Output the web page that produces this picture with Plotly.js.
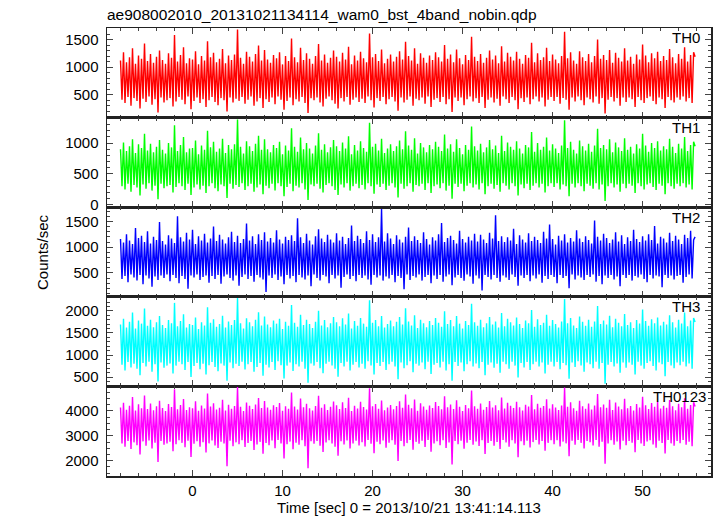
<!DOCTYPE html>
<html><head><meta charset="utf-8">
<script src="https://cdn.plot.ly/plotly-3.0.1.min.js"></script>
<style>html,body{margin:0;padding:0;background:#fff}</style>
</head><body><div id="chart" style="width:717px;height:516px"></div>
<script>
// time grid: start and bin width (seconds from 2013/10/21 13:41:14.113)
const tStart = -8;
const tStep = 1 / 6;

const seriesNames = ['TH0', 'TH1', 'TH2', 'TH3', 'TH0123'];

const th0 = [
1120,410,1270,350,1090,460,1180,300,1340,440,1060,390,1210,250,1150,430,
1430,370,1110,470,1240,320,1080,420,1190,180,1300,450,1130,360,1060,400,
1250,440,1170,290,1580,380,1100,460,1220,410,1360,330,1070,470,1160,240,
1140,390,1290,450,1050,350,1200,420,1120,280,1470,400,1180,460,1260,370,
1090,310,1150,440,1330,400,1070,200,1210,450,1130,360,1230,430,1680,390,
1170,460,1060,340,1280,410,1190,470,1100,300,1240,380,1390,440,1120,260,
1310,420,1140,370,1080,450,1220,330,1160,470,1270,410,1050,230,1200,390,
1110,450,1520,310,1180,420,1090,380,1350,460,1130,350,1250,170,1150,440,
1060,400,1200,450,1420,360,1120,290,1230,430,1080,470,1170,400,1300,340,
1190,250,1100,440,1260,380,1140,460,1370,320,1050,410,1210,450,1120,370,
1280,430,1160,350,1090,470,1610,400,1180,270,1240,440,1110,390,1320,460,
1070,330,1150,420,1230,460,1100,380,1190,210,1290,450,1140,360,1460,410,
1200,470,1120,300,1340,430,1060,400,1250,450,1170,340,1080,470,1210,280,
1130,410,1270,440,1180,370,1100,460,1400,330,1150,420,1230,190,1090,450,
1320,390,1160,450,1050,310,1220,420,1130,470,1550,380,1190,440,1110,350,
1240,460,1080,260,1170,410,1300,450,1140,360,1210,430,1070,300,1380,470,
1100,420,1260,350,1190,460,1120,400,1280,240,1150,440,1060,370,1220,450,
1170,330,1440,420,1090,470,1250,380,1130,450,1180,290,1350,410,1110,460,
1230,390,1140,460,1070,340,1200,440,1640,410,1160,230,1270,450,1120,380,
1060,470,1290,400,1180,310,1110,450,1240,420,1090,360,1200,470,1500,340,
1150,440,1220,160,1130,410,1310,460,1080,380,1260,440,1170,300,1100,450,
1340,370,1120,450,1190,420,1060,280,1230,460,1140,400,1410,350,1210,440,
1090,470,1250,390,1160,330,1280,450,1110,420,1200,260,1130,460,1330,400,
1180,360,1070,450,1240,410,1150,470,1360,380,1100,440,1220,350,1270,1190
];

const th1 = [
900,300,1010,250,870,340,950,210,1060,320,840,280,980,150,920,330,
1150,260,880,350,990,230,850,310,940,90,1050,340,890,270,830,300,
1000,320,930,200,1290,290,870,350,970,300,1100,240,850,340,910,160,
920,280,1040,330,820,250,960,310,890,190,1200,300,930,350,1020,270,
860,220,910,330,1070,300,840,110,970,340,900,260,980,320,1380,290,
940,350,830,240,1030,300,950,340,870,210,990,280,1120,330,890,170,
1060,310,900,270,850,340,970,230,920,350,1020,300,820,140,960,290,
880,340,1240,220,940,310,860,280,1090,350,900,250,1000,80,910,330,
830,300,960,340,1160,260,890,200,980,320,850,350,930,300,1050,240,
950,160,870,330,1010,280,910,350,1110,230,820,300,970,340,880,270,
1030,320,920,250,860,350,1330,300,940,180,990,330,880,290,1070,340,
840,240,910,310,980,350,870,280,950,120,1040,340,900,260,1190,300,
960,350,890,210,1080,320,830,300,1000,340,930,240,850,350,970,190,
900,300,1020,330,940,270,870,350,1140,230,910,310,980,100,860,340,
1060,290,920,340,820,220,970,310,890,350,1270,280,950,330,880,250,
990,350,850,170,930,300,1050,340,900,260,960,320,840,210,1120,350,
870,310,1010,250,940,350,890,300,1030,150,910,330,830,270,970,340,
930,240,1180,310,860,350,1000,280,890,340,940,200,1090,300,880,350,
980,290,910,350,840,250,960,330,1370,300,920,140,1020,340,890,280,
830,350,1040,300,950,220,880,340,990,310,860,260,960,350,1230,250,
920,330,970,60,900,300,1060,350,850,280,1010,330,930,210,870,340,
1080,270,890,340,940,310,830,190,980,350,910,300,1150,250,960,330,
860,350,1000,290,920,240,1030,340,880,310,950,170,900,350,1070,300,
940,260,840,340,990,300,910,350,1100,280,870,330,970,250,1020,950
];

const th2 = [
1160,380,1090,440,1250,320,1130,470,1060,410,1370,350,1180,460,1220,280,
1100,450,1310,390,1070,230,1200,430,1140,360,1490,450,1120,400,1050,470,
1230,340,1170,460,1080,400,1600,300,1190,440,1110,380,1280,190,1150,450,
1340,410,1060,470,1210,360,1130,420,1260,450,1090,310,1170,440,1400,380,
1120,460,1240,290,1150,430,1070,470,1190,400,1300,350,1100,450,1220,250,
1080,420,1160,470,1460,380,1130,440,1210,330,1060,460,1250,410,1140,370,
1290,130,1110,450,1180,400,1090,470,1330,360,1150,430,1070,280,1200,460,
1140,390,1230,440,1120,320,1560,460,1190,410,1080,370,1260,450,1130,240,
1050,470,1210,400,1350,350,1170,460,1100,430,1240,300,1150,460,1090,390,
1270,450,1130,210,1200,420,1060,470,1180,380,1420,440,1120,340,1220,460,
1160,400,1080,450,1310,370,1140,270,1250,460,1100,410,1190,450,1740,350,
1110,430,1270,390,1170,460,1060,320,1230,440,1150,400,1090,180,1200,470,
1380,360,1120,440,1210,410,1140,470,1080,350,1290,420,1160,460,1050,300,
1190,450,1130,380,1250,460,1470,330,1100,430,1180,470,1220,260,1140,410,
1070,460,1320,400,1160,350,1090,470,1200,430,1130,290,1260,450,1110,390,
1240,160,1150,460,1080,420,1280,370,1170,460,1620,400,1120,330,1210,450,
1100,410,1190,360,1130,470,1360,420,1060,250,1230,450,1150,400,1090,460,
1270,340,1120,450,1200,390,1140,470,1080,310,1300,440,1170,380,1440,460,
1160,420,1050,300,1220,460,1130,400,1250,440,1090,200,1180,470,1110,370,
1330,450,1170,410,1100,360,1210,460,1140,420,1070,470,1520,330,1200,440,
1130,280,1260,450,1180,400,1080,460,1150,370,1290,430,1110,240,1230,460,
1060,400,1190,460,1120,350,1340,440,1160,410,1100,470,1210,380,1130,320,
1250,460,1140,390,1410,450,1070,430,1200,220,1170,460,1090,400,1280,450,
1120,370,1220,440,1150,460,1060,310,1240,420,1180,470,1320,390,1140,1200
];

const th3 = [
1690,780,1820,650,1620,840,1750,720,1960,800,1600,690,1780,540,1710,820,
2050,740,1660,850,1800,620,1630,790,1740,400,1880,830,1680,710,1610,760,
1790,810,1720,580,2180,760,1650,850,1770,790,1920,660,1620,840,1700,500,
1680,750,1850,820,1590,680,1740,800,1670,560,2080,770,1730,840,1810,730,
1640,630,1700,810,1890,760,1620,420,1760,830,1680,700,1790,800,2290,750,
1720,850,1600,670,1830,790,1740,840,1650,620,1800,730,1970,820,1670,530,
1870,780,1690,720,1630,840,1780,660,1710,860,1820,770,1590,470,1750,760,
1660,830,2130,640,1730,790,1640,740,1910,850,1680,690,1800,370,1700,810,
1610,760,1750,840,2000,700,1670,590,1790,800,1630,850,1720,760,1860,690,
1740,510,1650,820,1830,740,1690,850,1940,650,1600,780,1770,840,1660,720,
1840,800,1710,690,1640,860,2240,760,1730,560,1790,820,1650,750,1880,840,
1620,660,1700,790,1780,850,1650,740,1750,450,1860,830,1690,700,2060,770,
1760,860,1670,610,1900,800,1610,760,1800,830,1720,680,1630,850,1770,570,
1680,780,1840,820,1730,720,1640,850,1990,650,1700,790,1790,420,1650,840,
1880,750,1710,830,1600,630,1770,790,1680,860,2160,740,1740,810,1660,700,
1800,840,1630,540,1720,780,1860,830,1690,710,1760,800,1620,600,1950,850,
1650,790,1820,690,1740,850,1670,760,1850,490,1700,820,1610,720,1780,840,
1720,660,2020,790,1640,850,1810,740,1680,830,1730,580,1910,780,1660,850,
1790,740,1700,840,1620,680,1760,820,2270,770,1720,460,1840,830,1670,730,
1610,860,1870,760,1750,620,1660,830,1800,790,1640,700,1760,850,2110,690,
1700,820,1780,350,1690,780,1890,840,1630,740,1820,810,1730,600,1650,830,
1930,710,1680,830,1740,780,1610,560,1790,850,1710,760,2030,690,1770,820,
1660,860,1810,750,1720,650,1850,830,1670,790,1750,520,1690,840,1900,760,
1740,700,1620,830,1800,770,1710,850,1960,740,1650,810,1780,690,1840,1750
];

const th0123 = [
4140,2700,4330,2560,4050,2800,4210,2470,4560,2740,4020,2620,4270,2250,4110,2780,
4620,2600,4080,2820,4300,2490,4030,2730,4190,1950,4410,2800,4120,2640,4000,2690,
4280,2770,4160,2380,4870,2660,4070,2830,4240,2720,4480,2540,4040,2810,4150,2150,
4110,2680,4390,2790,4010,2560,4220,2750,4100,2330,4700,2700,4180,2820,4310,2610,
4060,2510,4130,2770,4450,2690,4020,1780,4250,2810,4090,2580,4200,2740,4960,2660,
4170,2830,4000,2550,4340,2720,4210,2800,4080,2430,4260,2650,4520,2760,4120,2280,
4400,2720,4140,2620,4050,2820,4230,2500,4160,2840,4320,2690,4010,2090,4190,2660,
4090,2770,4740,2460,4180,2730,4060,2640,4500,2830,4150,2580,4290,1700,4110,2790,
4020,2680,4200,2800,4610,2600,4130,2350,4270,2740,4040,2830,4170,2690,4380,2560,
4230,2200,4080,2790,4350,2650,4120,2820,4530,2490,4000,2700,4210,2810,4100,2610,
4370,2750,4160,2570,4060,2840,4910,2680,4190,2300,4280,2770,4090,2660,4420,2820,
4030,2520,4140,2730,4240,2830,4070,2640,4200,1990,4390,2800,4130,2580,4660,2710,
4250,2840,4110,2440,4460,2760,4010,2680,4310,2810,4180,2550,4050,2840,4220,2360,
4120,2700,4360,2790,4200,2620,4070,2830,4590,2510,4150,2740,4260,1850,4080,2800,
4430,2660,4170,2810,4000,2480,4240,2730,4110,2840,4820,2640,4190,2780,4090,2590,
4300,2830,4050,2270,4160,2720,4400,2800,4140,2600,4230,2760,4030,2470,4540,2840,
4100,2740,4330,2560,4210,2830,4120,2690,4370,2140,4150,2790,4020,2620,4250,2810,
4180,2530,4640,2750,4070,2840,4290,2650,4130,2800,4200,2400,4470,2720,4100,2830,
4270,2660,4140,2830,4040,2570,4220,2770,4940,2700,4170,2180,4350,2810,4110,2640,
4010,2840,4410,2720,4190,2490,4090,2800,4300,2750,4060,2610,4220,2840,4680,2560,
4150,2770,4260,1880,4130,2690,4450,2830,4040,2640,4340,2780,4180,2450,4070,2810,
4490,2620,4110,2800,4200,2730,4020,2340,4280,2840,4140,2690,4570,2590,4230,2780,
4080,2830,4320,2650,4170,2520,4380,2810,4100,2720,4210,2290,4130,2840,4440,2700,
4190,2600,4030,2800,4290,2710,4150,2840,4510,2640,4090,2770,4240,2580,4350,4180
];

const series = [th0, th1, th2, th3, th0123];
const colors = ['#ff0000', '#00ff00', '#0000ff', '#00ffff', '#ff00ff'];
const yRanges = [[87, 1709], [-39, 1413], [35, 1777], [289, 2318], [1388, 4988]];
const yMajor = [500, 500, 500, 500, 1000];
const yMinor = [100, 100, 100, 100, 250];
const labelX = [0.985, 0.985, 0.985, 0.985, 0.995];

const FONT = 'Liberation Sans, Arial, Helvetica, sans-serif';

const traces = [];
const layout = {
  width: 717, height: 516,
  margin: {l: 107, r: 6, t: 27.5, b: 40},
  paper_bgcolor: '#fff', plot_bgcolor: '#fff',
  showlegend: false,
  font: {family: FONT, size: 15, color: '#000'},
  title: {text: 'ae908002010_20131021134114_wam0_bst_4band_nobin.qdp',
          x: 0, xref: 'paper', xanchor: 'left', y: 1 - 15/516, yref: 'container', yanchor: 'middle',
          font: {family: FONT, size: 15.5, color: '#000'}},
  annotations: []
};

const axisCommon = {
  showgrid: false, zeroline: false, showline: true, mirror: 'allticks',
  linecolor: '#222', linewidth: 1.5,
  ticks: 'inside', ticklen: 6, tickwidth: 1, tickcolor: '#444',
  tickfont: {family: FONT, size: 15, color: '#000'}
};

series.forEach((vals, k) => {
  const xs = k === 0 ? 'x' : 'x' + (k + 1);
  const ys = k === 0 ? 'y' : 'y' + (k + 1);
  const time = vals.map((_, i) => tStart + i * tStep);
  traces.push({
    type: 'scatter', mode: 'lines', x: time, y: vals,
    xaxis: xs, yaxis: ys, name: seriesNames[k],
    line: {color: colors[k], width: 1.4, simplify: false},
    hoverinfo: 'skip'
  });
  const top = 1 - k / 5, bot = 1 - (k + 1) / 5;
  const xk = k === 0 ? 'xaxis' : 'xaxis' + (k + 1);
  const yk = k === 0 ? 'yaxis' : 'yaxis' + (k + 1);
  layout[xk] = Object.assign({}, axisCommon, {
    anchor: ys, range: [-9.5, 57.6], dtick: 10, tick0: 0,
    showticklabels: k === 4,
    minor: {ticks: 'inside', ticklen: 3, dtick: 2, tick0: 0, tickcolor: '#444', tickwidth: 1},
    title: k === 4 ? {text: 'Time [sec] 0 = 2013/10/21 13:41:14.113', font: {family: FONT, size: 15}, standoff: 4} : {text: ''}
  });
  if (k !== 0) layout[xk].matches = 'x';
  layout[yk] = Object.assign({}, axisCommon, {
    anchor: xs, domain: [bot, top], range: yRanges[k], dtick: yMajor[k], tick0: 0,
    minor: {ticks: 'inside', ticklen: 3, dtick: yMinor[k], tick0: 0, tickcolor: '#444', tickwidth: 1},
    ticklabelstandoff: 4
  });
  layout.annotations.push({
    text: seriesNames[k], showarrow: false, xref: 'paper', yref: 'paper',
    x: labelX[k], xanchor: 'right', y: top - (10 / 448.5), yanchor: 'middle',
    font: {family: FONT, size: 15, color: '#000'}
  });
});

layout.annotations.push({
  text: 'Counts/sec', showarrow: false, xref: 'paper', yref: 'paper',
  x: (42 - 107) / 604, xanchor: 'center', y: 0.5, yanchor: 'middle', textangle: -90,
  font: {family: FONT, size: 15, color: '#000'}
});

Plotly.newPlot('chart', traces, layout, {displayModeBar: false, staticPlot: true});
</script></body></html>
